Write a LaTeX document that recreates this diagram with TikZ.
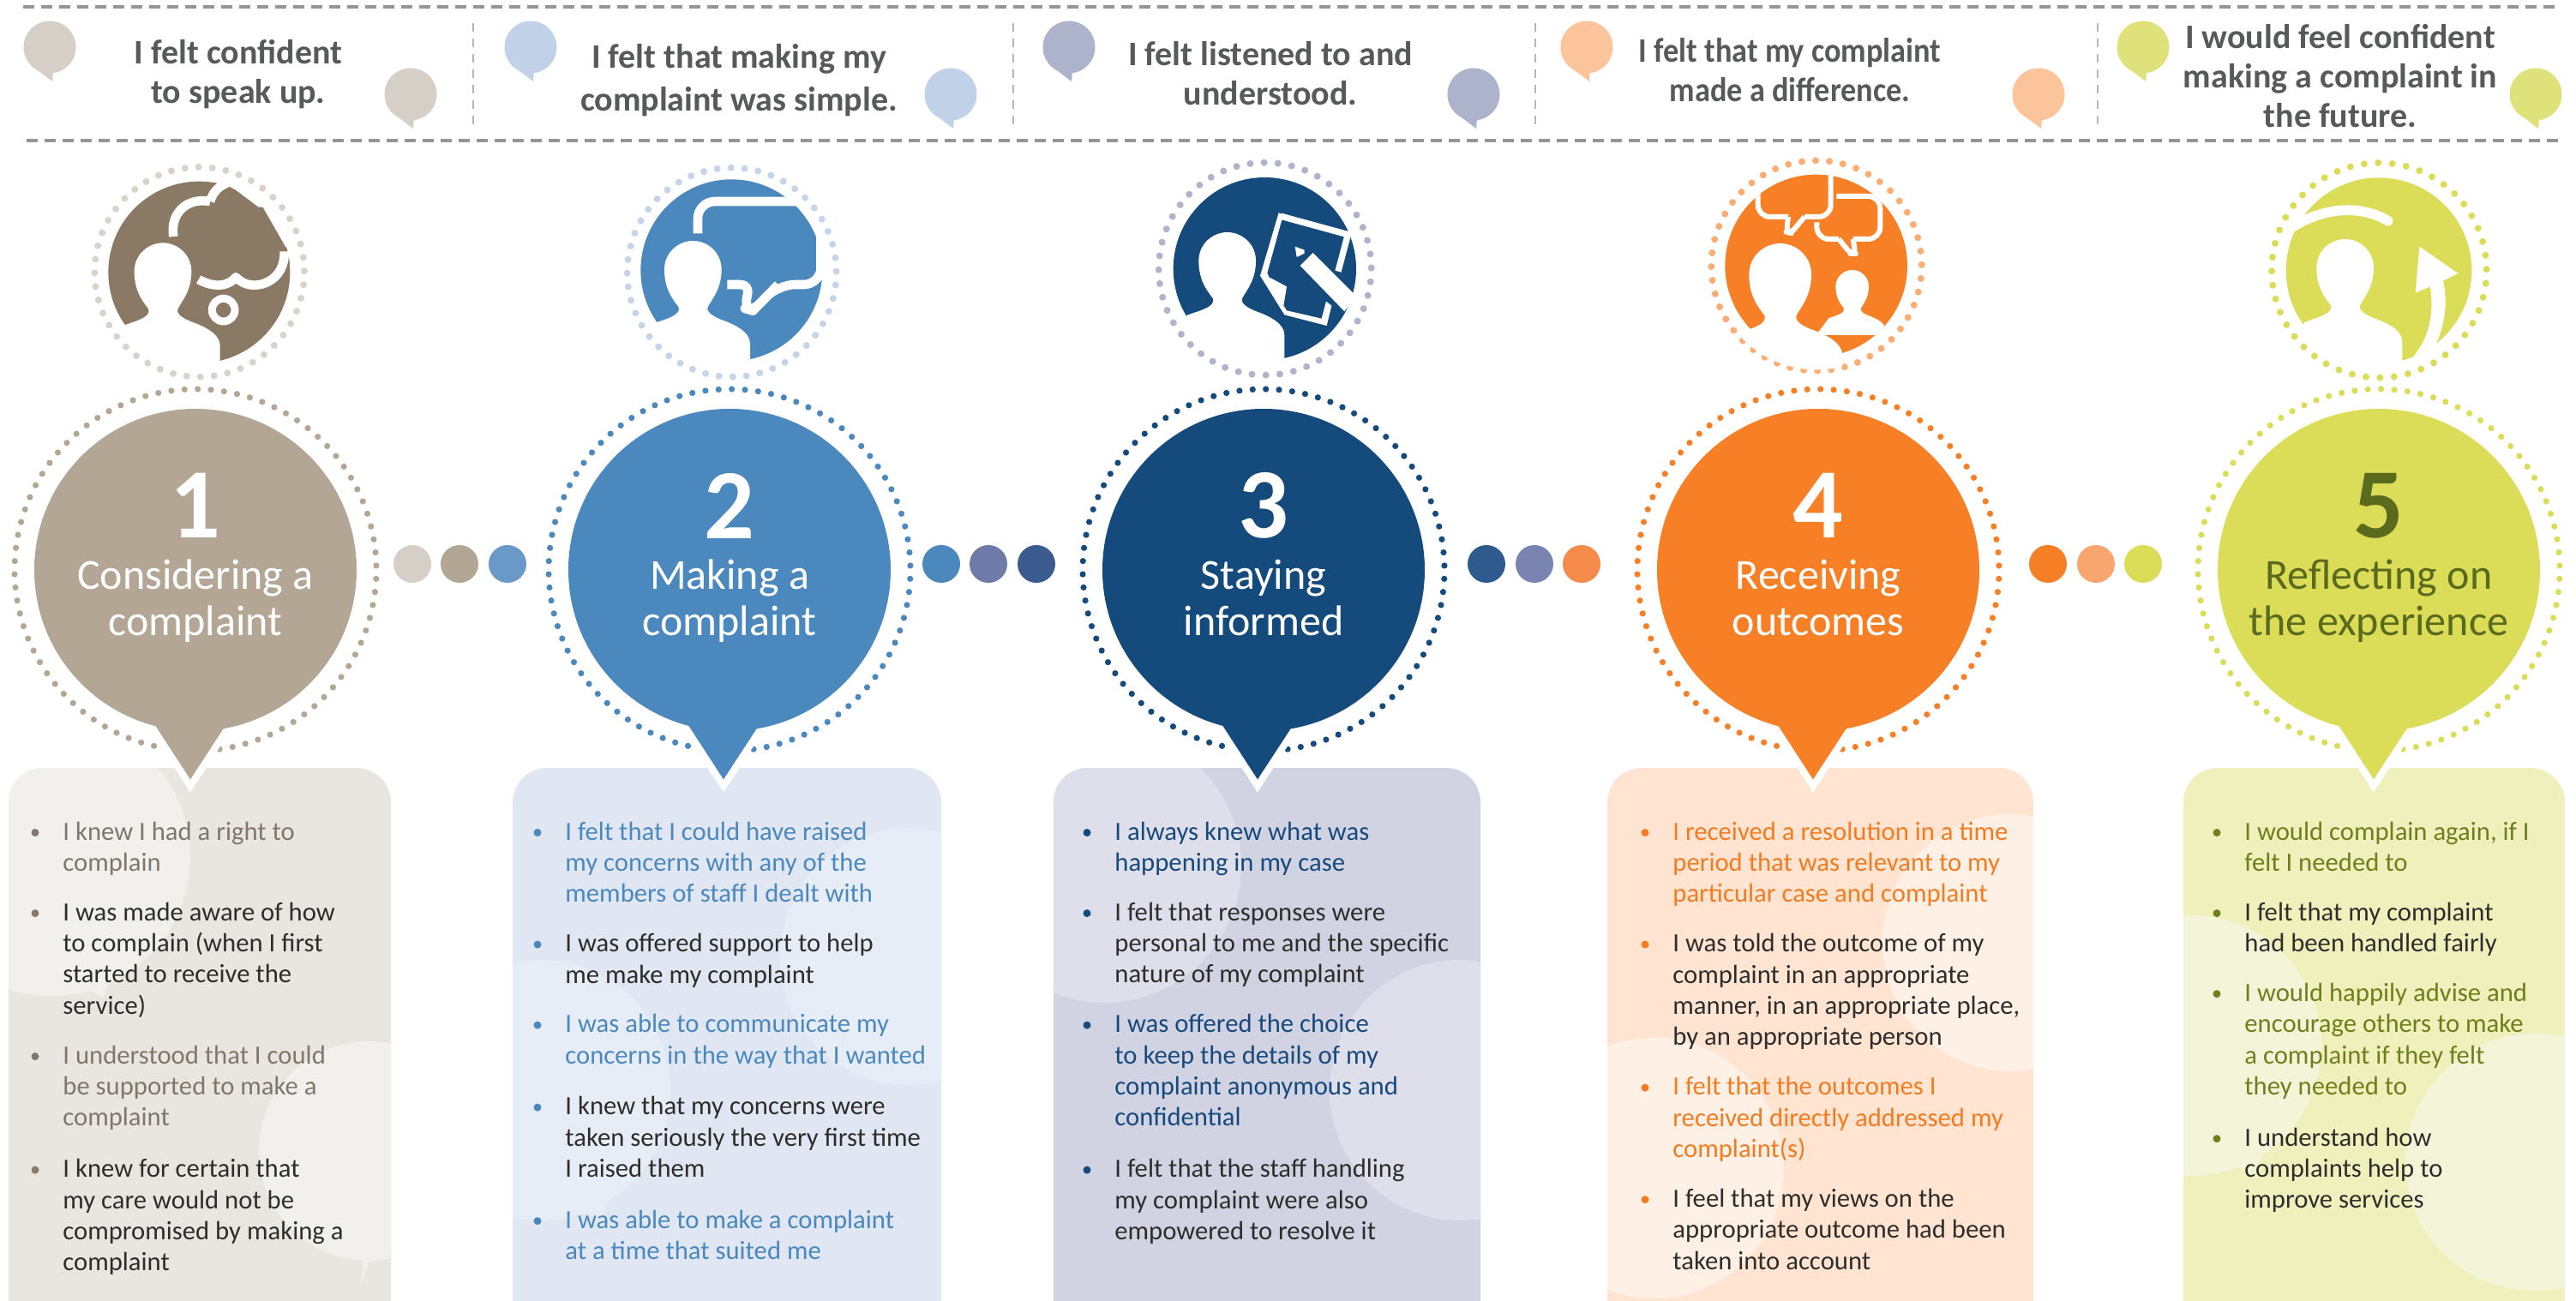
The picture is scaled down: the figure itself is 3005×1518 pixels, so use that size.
\documentclass[tikz,border=0pt]{standalone}
\usepackage{fontspec}
\usepackage{graphicx}
\setmainfont{Carlito}
\definecolor{cA}{HTML}{B3A695}\definecolor{cB}{HTML}{4A88BE}\definecolor{cC}{HTML}{154A7C}\definecolor{cD}{HTML}{F77F26}\definecolor{cE}{HTML}{DBDC58}
\definecolor{iA}{HTML}{8A7964}
\definecolor{rA}{HTML}{D9D2CA}\definecolor{rB}{HTML}{C5D4E9}\definecolor{rC}{HTML}{B0B3CC}\definecolor{rD}{HTML}{FBAE74}
\definecolor{bubA}{HTML}{D6CFC8}\definecolor{bubB}{HTML}{C1D2E8}\definecolor{bubC}{HTML}{AEB3CC}\definecolor{bubD}{HTML}{FCC49A}\definecolor{bubE}{HTML}{DFE27A}
\definecolor{bxA}{HTML}{E9E6E1}\definecolor{ltA}{HTML}{F1F0EC}
\definecolor{bxB}{HTML}{E0E7F2}\definecolor{ltB}{HTML}{E7EDF6}
\definecolor{bxC}{HTML}{D1D3E2}\definecolor{ltC}{HTML}{DEDFEA}
\definecolor{bxD}{HTML}{FFE4D2}\definecolor{ltD}{HTML}{FEF0E4}
\definecolor{bxE}{HTML}{EFF0BC}\definecolor{ltE}{HTML}{F3F5D8}
\definecolor{txA}{HTML}{7F776B}\definecolor{txB}{HTML}{4A88BE}\definecolor{txC}{HTML}{174A7C}\definecolor{txD}{HTML}{F47B20}\definecolor{txE}{HTML}{6E7F1B}
\definecolor{dk}{HTML}{2F2D2B}\definecolor{hd}{HTML}{58595B}\definecolor{dashc}{HTML}{939598}\definecolor{olive}{HTML}{5A6B1E}
\definecolor{sdG}{HTML}{6A98C8}\definecolor{sdA}{HTML}{6E7BA8}\definecolor{sdB}{HTML}{3B5B8E}\definecolor{sdC}{HTML}{2F5A8E}\definecolor{sdD}{HTML}{7A84B0}\definecolor{sdE}{HTML}{F58A4A}\definecolor{sdF}{HTML}{F9A66E}
\tikzset{
 bodytext/.style={anchor=north west,inner sep=0pt,align=left,font=\fontsize{15.35pt}{18.15pt}\selectfont,execute at begin node=\strut},
 headtext/.style={inner sep=0pt,align=center,text=hd,font=\bfseries\fontsize{20pt}{23pt}\selectfont},
 numtext/.style={inner sep=0pt,font=\bfseries\fontsize{58pt}{60pt}\selectfont},
 labtext/.style={inner sep=0pt,align=center,font=\fontsize{25pt}{27pt}\selectfont},
 hdash/.style={draw=dashc,line width=2pt,dash pattern=on 6.5pt off 4pt},
 vdash/.style={draw=dashc!70,line width=0.8pt,dash pattern=on 5pt off 4pt},
 band/.style={draw=white,line width=#1,line cap=butt,line join=round}
}
\newcommand\bitem[6]{% name, bulletx, textx, ydisplay, colour, text
 \fill[#5] (#2,{1.92*#4}) circle (4.5);
 \node[bodytext,text=#5] (#1) at (#3,{1.92*#4-13}) {#6};}
\newcommand\ditem[6]{% as above but bullet colour #5 and dark text
 \fill[#5] (#2,{1.92*#4}) circle (4.5);
 \node[bodytext,text=dk] (#1) at (#3,{1.92*#4-13}) {#6};}
\newcommand\dotring[6]{%cx cy r n dotr colour
 \foreach \a in {1,...,#4}{\fill[#6] ({#1+#3*cos(360/#4*\a+7)},{#2+#3*sin(360/#4*\a+7)}) circle (#5);}}
\newcommand\spbub[3]{\begin{scope}[shift={(#1,#2)}]\fill[#3] (0,0) circle (30.5);\fill[#3] (-22,21)--(3,40)--(4,28)--cycle;\end{scope}}
\newcommand\boxbub[6]{\fill[#6] (#1,#2) circle (#3);\fill[#6] (#4,#5) -- (#1,{#2+#3-40}) -- ({#4+20},{#5-50}) -- cycle;}
\newcommand\personpath{(-140,290) .. controls (-100,275) and (-40,262) .. (-50,232)
 .. controls (-70,205) and (-100,170) .. (-100,100)
 .. controls (-100,40) and (-50,0) .. (0,0)
 .. controls (50,0) and (100,40) .. (100,100)
 .. controls (100,170) and (65,205) .. (52,232)
 .. controls (45,250) and (75,268) .. (110,280)
 .. controls (150,295) and (200,320) .. (200,360)
 -- (200,500) -- (-300,500) -- cycle}
\newcommand\mainpin[7]{% cx tipx numeral line-label colour textcolour idx
 \dotring{#1}{665}{211}{86}{3.6}{#5}
 \draw[white,fill=#5,line width=4pt,miter limit=10] ({#2-50},840)--(#2,917)--({#2+47},845)--cycle;
 \fill[#5] (#1,665) circle (188);
 \node[numtext,text=#6] (num#7) at (#1,590) {#3};
 \node[labtext,text=#6,anchor=base] (lab#7) at (#1,741) {#4};}
\begin{document}
\begin{tikzpicture}[x=0.5pt,y=-0.5pt]
\fill[white] (0,0) rectangle (3005,1518);
\clip (0,0) rectangle (3005,1518);
% header
\draw[hdash] (27,8) -- (2985,8);
\draw[hdash] (31,164) -- (2985,164);
\foreach \x in {552,1182,1791,2447}{\draw[vdash] (\x,27) -- (\x,146);}
\spbub{58}{55}{bubA}\spbub{479}{110}{bubA}
\spbub{619}{55}{bubB}\spbub{1109}{110}{bubB}
\spbub{1247}{55}{bubC}\spbub{1719}{110}{bubC}
\spbub{1851}{55}{bubD}\spbub{2378}{110}{bubD}
\spbub{2500}{55}{bubE}\spbub{2958}{110}{bubE}
\node[headtext] (h1) at (278,87) {I felt confident\\to speak up.};
\node[headtext,font=\bfseries\fontsize{20pt}{25pt}\selectfont] (h2) at (862,94) {I felt that making my\\complaint was simple.};
\node[headtext] (h3) at (1482,86) {I felt listened to and\\understood.};
\node[headtext] (h4) at (2088,86) {\scalebox{0.907}[1]{\begin{tabular}{@{}c@{}}I felt that my complaint\\made a difference.\end{tabular}}};
\node[headtext] (h5) at (2730,89) {I would feel confident\\making a complaint in\\the future.};
% boxes
\foreach \xa/\xb/\cb in {10/456/bxA,598/1098/bxB,1229/1727/bxC,1875/2372/bxD,2547/2992/bxE}{
 \fill[\cb,rounded corners=20pt] (\xa,896) rectangle (\xb,1600);}
\begin{scope}\clip[rounded corners=20pt] (10,896) rectangle (456,1600);
 \boxbub{60}{1000}{162}{120}{1165}{ltA}\boxbub{430}{1343}{128}{420}{1500}{ltA}\end{scope}
\begin{scope}\clip[rounded corners=20pt] (598,896) rectangle (1098,1600);
 \boxbub{1060}{1116}{150}{1030}{1268}{ltB}\boxbub{630}{1272}{152}{700}{1425}{ltB}\end{scope}
\begin{scope}\clip[rounded corners=20pt] (1229,896) rectangle (1727,1600);
 \boxbub{1288}{1010}{160}{1327}{1167}{ltC}\boxbub{1703}{1272}{152}{1666}{1423}{ltC}\end{scope}
\begin{scope}\clip[rounded corners=20pt] (1875,896) rectangle (2372,1600);
 \boxbub{2346}{1100}{150}{2314}{1252}{ltD}\boxbub{1929}{1363}{152}{1960}{1515}{ltD}\end{scope}
\begin{scope}\clip[rounded corners=20pt] (2547,896) rectangle (2992,1600);
 \boxbub{2556}{1220}{152}{2630}{1372}{ltE}\boxbub{2956}{1356}{150}{2915}{1498}{ltE}\end{scope}
% main pins
\mainpin{228}{222}{1}{Considering a\\complaint}{cA}{white}{1}
\mainpin{851}{844}{2}{Making a\\complaint}{cB}{white}{2}
\mainpin{1474}{1467}{3}{Staying\\informed}{cC}{white}{3}
\mainpin{2121}{2115}{4}{Receiving\\outcomes}{cD}{white}{4}
\mainpin{2775}{2769}{5}{Reflecting on\\the experience}{cE}{olive}{5}
% step dots
\foreach \x/\c in {481/bubA,536/cA,592/sdG,1098/cB,1153/sdA,1209/sdB,1734/sdC,1790/sdD,1845/sdE,2389/cD,2445/sdF,2500/cE}{
 \fill[\c] (\x,658) circle (22);}
% ICON 1
\begin{scope}[shift={(90,180)},x=0.16667pt,y=-0.16667pt]
 \fill[iA] (427,413) circle (318);
 \begin{scope}\clip (427,413) circle (320);\begin{scope}[shift={(300,310)}]\fill[white] \personpath;\end{scope}\end{scope}
 \fill[white] (500,95) -- (555,125) -- (635,185) -- (650,185) -- (730,325) -- (770,330) -- (770,80) -- cycle;
 \draw[band=5.3pt] (337,288) .. controls (325,210) and (380,150) .. (465,165);
 \draw[band=5.3pt] (465,165) .. controls (475,135) and (490,115) .. (525,100);
 \draw[band=5.3pt] (725,340) .. controls (728,420) and (670,458) .. (620,458) .. controls (590,458) and (570,445) .. (555,430) .. controls (545,445) and (520,458) .. (495,458) .. controls (470,458) and (445,450) .. (425,438);
 \draw[white,line width=4.5pt] (512,545) circle (40);
 \dotring{428}{412}{367}{48}{12}{rA}
\end{scope}
% ICON 2
\begin{scope}[shift={(715,180)},x=0.16667pt,y=-0.16667pt]
 \fill[cB] (415,406) circle (318);
 \begin{scope}\clip (415,406) circle (320);\begin{scope}[shift={(280,303)}]\fill[white] \personpath;\end{scope}\end{scope}
 \draw[band=5.3pt,rounded corners=10pt] (297,277) -- (297,165) -- (650,165);
 \fill[white] (712,290) -- (745,290) -- (745,440) -- (712,440) -- cycle;
 \draw[band=5.3pt,rounded corners=10pt] (728,360) -- (728,456) -- (578,456) -- (490,548);
 \draw[band=5.3pt,rounded corners=5pt] (578,456) -- (490,548) -- (462,540) -- (477,456) -- (400,456);
 \dotring{416}{413}{366}{48}{12}{rB}
\end{scope}
% ICON 3
\begin{scope}[shift={(1335,175)},x=0.16667pt,y=-0.16667pt]
 \fill[cC] (421,416) circle (320);
 \begin{scope}\clip (421,416) circle (322);\begin{scope}[shift={(290,288)}]\fill[white] \personpath;\end{scope}\end{scope}
 \begin{scope}\clip (421,416) circle (322);
 \draw[band=3.7pt,line join=round] (478,232) -- (712,296) -- (678,425);
 \fill[white] (470,220) -- (486,226) -- (430,430) -- (436,445) -- (498,478) -- (487,545) -- (498,562) -- (620,590) -- (636,530) -- (655,545) -- (638,615) -- (490,577) -- (405,440) -- cycle;
 \fill[white] (527,338) -- (560,350) -- (560,362) -- (533,375) -- cycle;
 \fill[white] (545,405) -- (565,385) -- (590,360) -- (740,510) -- (700,565) -- cycle;
 \end{scope}
 \dotring{422}{416}{372}{48}{12}{rC}
\end{scope}
% ICON 4
\begin{scope}[shift={(1985,170)},x=0.16667pt,y=-0.16667pt]
 \fill[cD] (401,420) circle (319);
 \dotring{402}{420}{368}{48}{12}{rD}
 \begin{scope}\clip (401,420) circle (319);
 \begin{scope}[shift={(527,435)},scale=0.58]\clip (-300,-100) rectangle (300,388);\fill[white] \personpath;\end{scope}
 \fill[white] (440,640) rectangle (640,660);
 \end{scope}
 \begin{scope}\clip (402,420) circle (364);
  \begin{scope}[shift={(275,342)},scale=1.09]\fill[white] \personpath;\end{scope}
 \end{scope}
 \begin{scope}\clip (401,420) circle (319);
 \draw[band=3pt,rounded corners=7pt] (197,165) -- (197,249) -- (303,249);
 \draw[band=3pt,rounded corners=3pt] (303,249) -- (297,302) -- (313,306) -- (360,249);
 \draw[band=3pt,rounded corners=7pt] (360,249) -- (452,249) -- (452,100);
 \draw[band=3pt,rounded corners=7pt] (472,177) -- (625,177) -- (625,327) -- (530,327);
 \draw[band=3pt,rounded corners=3pt] (530,327) -- (538,378) -- (522,378) -- (480,327);
 \draw[band=3pt,rounded corners=7pt] (480,327) -- (403,327) -- (403,268);
 \end{scope}
\end{scope}
% ICON 5
\begin{scope}[shift={(2635,175)},x=0.16667pt,y=-0.16667pt]
 \fill[cE] (420,422) circle (325);
 \begin{scope}\clip (420,422) circle (327);\begin{scope}[shift={(302,312)}]\fill[white] \personpath;\end{scope}
 \draw[white,line width=5.8pt,line cap=round] (452,248) .. controls (370,200) and (250,190) .. (120,268);
 \fill[white] (697,432) -- (562,338) -- (548,500) -- (600,478) .. controls (612,570) and (600,650) .. (540,725) -- (500,760) -- (600,760) -- (622,675) .. controls (655,600) and (660,520) .. (645,458) -- cycle;
 \end{scope}
 \dotring{421}{421}{376}{48}{12}{cE}
\end{scope}
% box 1
\bitem{a1}{41}{73}{506}{txA}{I knew I had a right to\\complain}
\ditem{a2}{41}{73}{555}{iA}{I was made aware of how\\to complain (when I first\\started to receive the\\service)}
\bitem{a3}{41}{73}{642}{txA}{I understood that I could\\be supported to make a\\complaint}
\ditem{a4}{41}{73}{711}{iA}{I knew for certain that\\my care would not be\\compromised by making a\\complaint}
% box 2
\bitem{b1}{627}{659}{506}{txB}{I felt that I could have raised\\my concerns with any of the\\members of staff I dealt with}
\ditem{b2}{627}{659}{574}{txB}{I was offered support to help\\me make my complaint}
\bitem{b3}{627}{659}{623}{txB}{I was able to communicate my\\concerns in the way that I wanted}
\ditem{b4}{627}{659}{673}{txB}{I knew that my concerns were\\taken seriously the very first time\\I raised them}
\bitem{b5}{627}{659}{742}{txB}{I was able to make a complaint\\at a time that suited me}
% box 3
\bitem{c1}{1268}{1300}{506}{txC}{I always knew what was\\happening in my case}
\ditem{c2}{1268}{1300}{555}{txC}{I felt that responses were\\personal to me and the specific\\nature of my complaint}
\bitem{c3}{1268}{1300}{623}{txC}{I was offered the choice\\to keep the details of my\\complaint anonymous and\\confidential}
\ditem{c4}{1268}{1300}{711}{txC}{I felt that the staff handling\\my complaint were also\\empowered to resolve it}
% box 4
\bitem{d1}{1919}{1951}{506}{txD}{I received a resolution in a time\\period that was relevant to my\\particular case and complaint}
\ditem{d2}{1919}{1951}{574}{txD}{I was told the outcome of my\\complaint in an appropriate\\manner, in an appropriate place,\\by an appropriate person}
\bitem{d3}{1919}{1951}{661}{txD}{I felt that the outcomes I\\received directly addressed my\\complaint(s)}
\ditem{d4}{1919}{1951}{729}{txD}{I feel that my views on the\\appropriate outcome had been\\taken into account}
% box 5
\bitem{e1}{2586}{2618}{506}{txE}{I would complain again, if I\\felt I needed to}
\ditem{e2}{2586}{2618}{555}{txE}{I felt that my complaint\\had been handled fairly}
\bitem{e3}{2586}{2618}{604}{txE}{I would happily advise and\\encourage others to make\\a complaint if they felt\\they needed to}
\ditem{e4}{2586}{2618}{692}{txE}{I understand how\\complaints help to\\improve services}
\end{tikzpicture}
\end{document}
